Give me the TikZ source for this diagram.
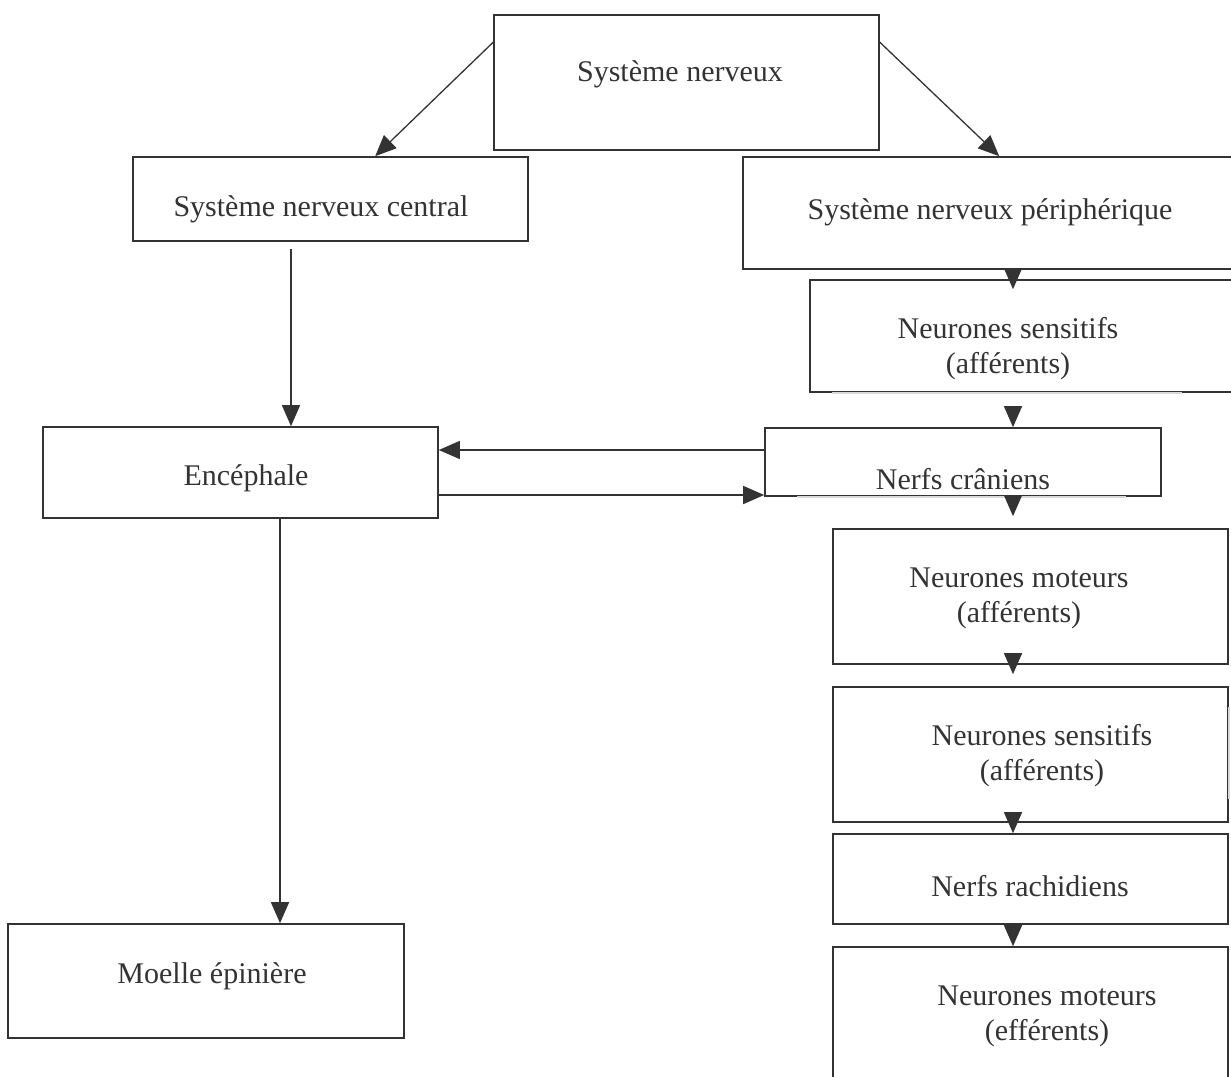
\documentclass[tikz,border=0pt]{standalone}
\usepackage{fontspec}
\setmainfont{Liberation Serif}
\usetikzlibrary{arrows.meta,positioning,calc}
\definecolor{ink}{HTML}{333333}
\tikzset{
  basic/.style = {draw=ink, line width=1.6pt, rectangle, inner sep=0pt},
  txt/.style   = {text=ink, align=center, inner sep=0pt,
                  font=\fontsize{30}{35}\selectfont},
  link/.style  = {->, draw=ink, line width=1.3pt},
  worn/.style  = {draw=gray!30, line width=1.6pt}
}

\begin{document}
\begin{tikzpicture}[
  x=1pt, y=-1pt,
  >={Triangle[length=21pt,width=18pt]}]

\useasboundingbox (0,0) rectangle (1231,1076);

% columns and rows used by the connectors
\coordinate (lc1) at (291,0);
\coordinate (lc2) at (280,0);
\coordinate (rc)  at (1013,0);
\coordinate (hy1) at (0,450);
\coordinate (hy2) at (0,495);

% boxes, top level
\node[basic, minimum width=385pt, minimum height=135pt] (sn)  at (686.5,82.5) {};
\node[basic, minimum width=395pt, minimum height=84pt]  (snc) at (330.5,199) {};
\node[basic, minimum width=497pt, minimum height=112pt] (snp) at (991.5,213) {};

% left column
\node[basic, minimum width=395pt, minimum height=91pt]  (enc) at (240.5,472.5) {};
\node[basic, minimum width=396pt, minimum height=114pt] (mo)  at (206,981) {};

% right column
\node[basic, minimum width=430pt, minimum height=112pt] (ns1) at (1025,336) {};
\node[basic, minimum width=396pt, minimum height=68pt]  (nc)  at (963,462) {};
\node[basic, minimum width=395pt, minimum height=135pt] (nm1) at (1030.5,596.5) {};
\node[basic, minimum width=395pt, minimum height=135pt] (ns2) at (1030.5,754.5) {};
\node[basic, minimum width=395pt, minimum height=90pt]  (nr)  at (1030.5,879) {};
\node[basic, minimum width=395pt, minimum height=153pt] (nm2) at (1030.5,1023.5) {};

% faded pieces of the borders
\draw[worn] ($(ns1.south west)+(23,0)$) -- ($(ns1.south west)+(373,0)$);
\draw[worn] ($(nc.south west)+(33,0)$) -- ($(nc.south west)+(362,0)$);
\draw[worn] ($(ns2.north east)+(0,21)$) -- ($(ns2.north east)+(0,113)$);

% texts
\node[txt] (sn-t)  at (680,74)   {Système nerveux};
\node[txt] (snc-t) at (321,209)  {Système nerveux central};
\node[txt] (snp-t) at (990,212)  {Système nerveux périphérique};
\node[txt] (enc-t) at (246,478)  {Encéphale};
\node[txt] (mo-t)  at (212,976)  {Moelle épinière};
\node[txt] (ns1-t) at (1008,349) {Neurones sensitifs\\(afférents)};
\node[txt] (nc-t)  at (963,479)  {Nerfs crâniens};
\node[txt] (nm1-t) at (1019,598) {Neurones moteurs\\(afférents)};
\node[txt] (ns2-t) at (1042,756) {Neurones sensitifs\\(afférents)};
\node[txt] (nr-t)  at (1030,886) {Nerfs rachidiens};
\node[txt] (nm2-t) at (1047,1016) {Neurones moteurs\\(efférents)};

% connectors, left part
\draw[link] ($(sn.north west)+(0,28)$) -- ($(snc.north west)+(243,0)$);
\draw[link] ($(sn.north east)+(0,28)$) -- ($(snp.north west)+(257,0)$);
\draw[link] ($(snc.south -| lc1)+(0,7)$) -- (enc.north -| lc1);
\draw[link] (enc.south -| lc2) -- (mo.north -| lc2);
\draw[link] (nc.west |- hy1) -- (enc.east |- hy1);
\draw[link] (enc.east |- hy2) -- (nc.west |- hy2);

% connectors, right column
\draw[link] (snp.south -| rc) -- ($(ns1.north -| rc)+(0,10)$);
\draw[link] ($(ns1.south -| rc)+(0,13)$) -- (nc.north -| rc);
\draw[link] (nc.south -| rc) -- ($(nm1.north -| rc)+(0,-12)$);
\draw[link] ($(nm1.south -| rc)+(0,-11)$) -- ($(ns2.north -| rc)+(0,-12)$);
\draw[link] ($(ns2.south -| rc)+(0,-10)$) -- (nr.north -| rc);
\draw[link] (nr.south -| rc) -- (nm2.north -| rc);

\end{tikzpicture}
\end{document}
